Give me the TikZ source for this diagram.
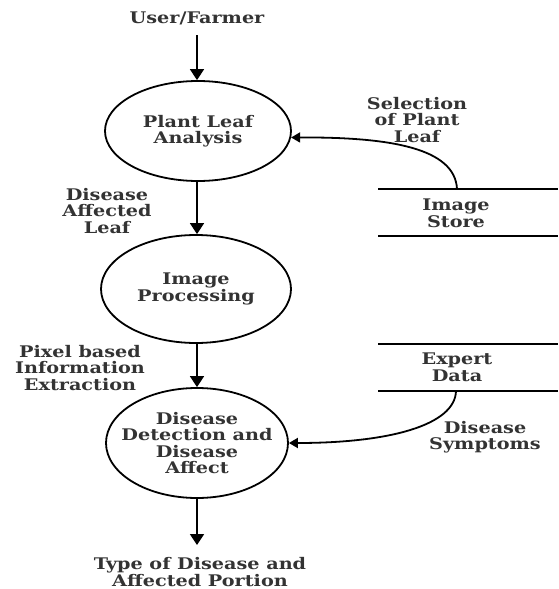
\documentclass[tikz,border=0pt]{standalone}
\usepackage{fontspec}
\setmainfont{DejaVu Serif}[FakeStretch=1.2, BoldFont={DejaVu Serif Bold}]
\usetikzlibrary{arrows.meta,shapes.geometric}
\definecolor{txt}{HTML}{333333}
\begin{document}
\begin{tikzpicture}[x=1pt,y=-1pt,
  every node/.style={font=\fontsize{16}{16.6}\selectfont\bfseries, text=txt, align=center},
  proc/.style={draw=black, line width=1.8pt, ellipse, inner sep=0pt},
  lbl/.style={inner sep=0pt},
  flow/.style={line width=1.8pt, -{Triangle[width=14pt,length=11pt]}},
  curv/.style={line width=1.8pt, -{Triangle[width=10pt,length=9pt]}},
  store/.style={line width=1.5pt}]
\useasboundingbox (0,0) rectangle (558,589);

\node[lbl] (user) at (197,18) {User/Farmer};
\node[proc, minimum width=186pt, minimum height=100pt] (pla) at (198,131) {};
\node[lbl] (plat) at (pla.center) {Plant Leaf\\Analysis};
\node[proc, minimum width=190pt, minimum height=108pt] (ip) at (196,289) {};
\node[lbl] (ipt) at (ip.center) {Image\\Processing};
\node[proc, minimum width=182pt, minimum height=110pt] (dd) at (197,443) {};
\node[lbl] (ddt) at (dd.center) {Disease\\Detection and\\Disease\\Affect};
\node[lbl] (out) at (200,572) {Type of Disease and\\Affected Portion};
\coordinate (outend) at (197,545);

\node[lbl] (l1) at (107,211) {Disease\\Affected\\Leaf};
\node[lbl] (l2) at (80,368) {Pixel based\\Information\\Extraction};
\node[lbl] (l3) at (417,120) {Selection\\of Plant\\Leaf};
\node[lbl] (l4) at (485,437) {Disease\\Symptoms};

% data stores
\node[lbl] (is) at (456,213) {Image\\Store};
\coordinate (istop) at (457,189);
\draw[store] (378,189) -- (558,189);
\draw[store] (378,236) -- (558,236);

\node[lbl] (ed) at (457,367) {Expert\\Data};
\coordinate (edbot) at (456,391);
\draw[store] (378,344) -- (558,344);
\draw[store] (378,391) -- (558,391);

% flows
\draw[flow] (197,35) -- (pla.north -| 197,0);
\draw[flow] (pla.south -| 197,0) -- (ip.north -| 197,0);
\draw[flow] (ip.south -| 197,0) -- (dd.north -| 197,0);
\draw[flow] (dd.south) -- (outend);
\draw[curv] (istop) .. controls (455,148) and (390,137) .. (pla.-4);
\draw[curv] (edbot) .. controls (455,425) and (390,443) .. (dd.east);
\end{tikzpicture}
\end{document}
